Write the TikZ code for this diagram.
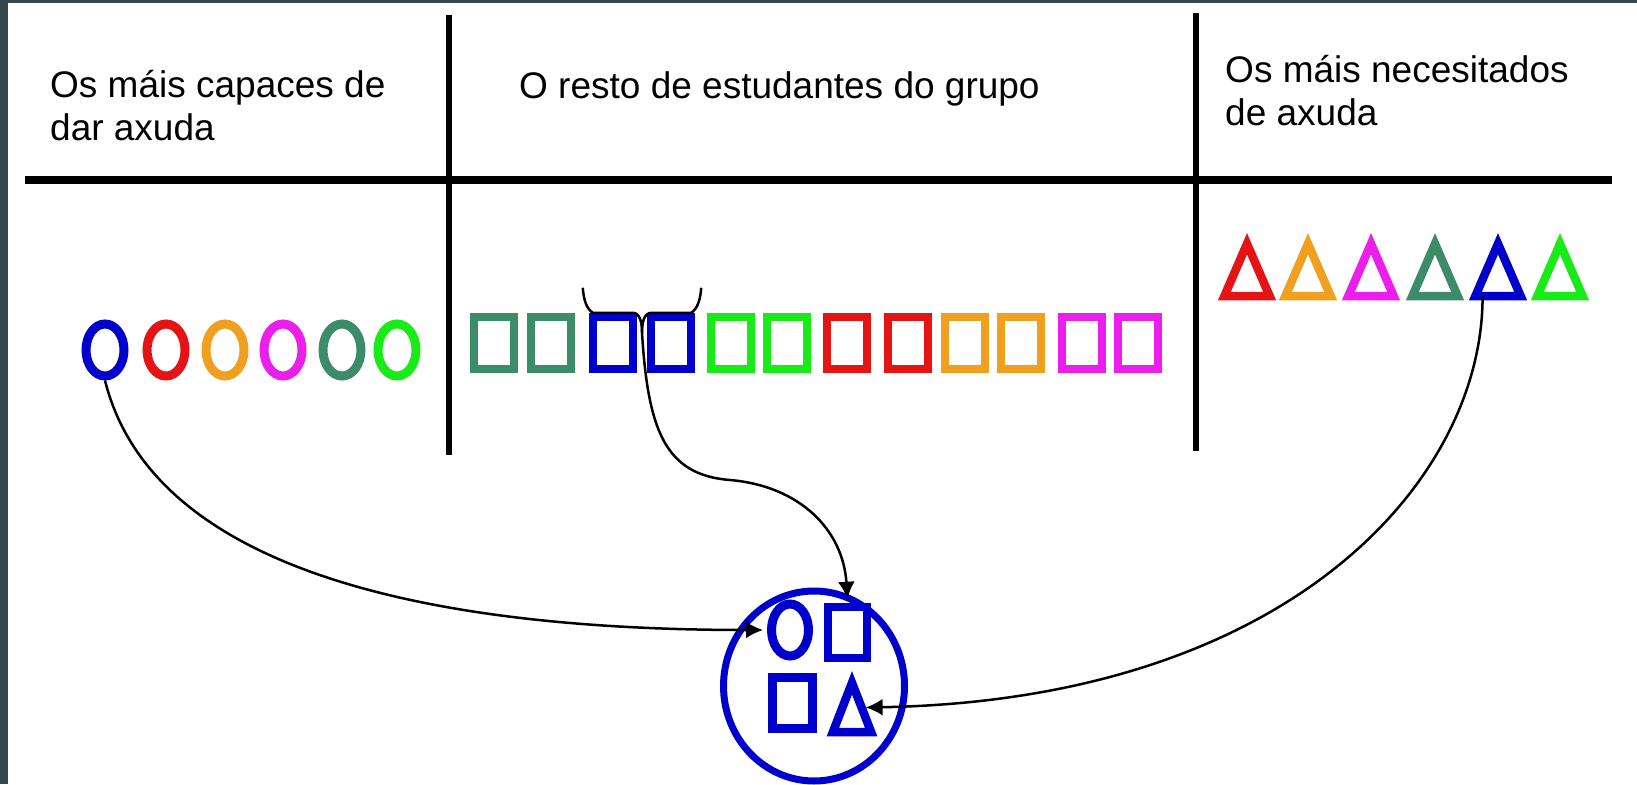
\documentclass[tikz,border=0pt]{standalone}
\usepackage{fontspec}
\setmainfont{Liberation Sans}
\usetikzlibrary{shapes.geometric,arrows.meta,calc}
\definecolor{framecol}{RGB}{55,71,79}
\definecolor{cblue}{RGB}{0,0,205}
\definecolor{cred}{RGB}{228,20,20}
\definecolor{corange}{RGB}{240,160,30}
\definecolor{cmag}{RGB}{236,30,236}
\definecolor{csea}{RGB}{60,140,105}
\definecolor{cgreen}{RGB}{25,235,25}
\begin{document}
\begin{tikzpicture}[x=1pt,y=-1pt,
  lbl/.style={font=\fontsize{37}{43}\selectfont, inner sep=0pt, align=left, anchor=base west},
  ring/.style={ellipse, draw=#1, line width=9pt, minimum width=38pt, minimum height=52pt, inner sep=0pt},
  box/.style={rectangle, draw=#1, line width=8.5pt, minimum width=40pt, minimum height=52pt, inner sep=0pt},
  trislot/.style={rectangle, minimum width=45pt, minimum height=52pt, inner sep=0pt},
  tri/.style={draw=#1, line width=8.5pt, line join=miter},
  sepline/.style={line width=#1, black},
  link/.style={line width=2.5pt, black, -{Latex[length=17pt,width=17pt]}},
  brace/.style={line width=2.5pt, black},
]
% background and frame
\fill[white] (0,0) rectangle (1637,784);
\fill[framecol] (0,0) rectangle (8,784);
\fill[framecol] (0,0) rectangle (1637,3);
\useasboundingbox (0,0) rectangle (1637,784);

% separating lines
\coordinate (hL) at (25,180);  \coordinate (hR) at (1612,180);
\coordinate (v1T) at (449,15); \coordinate (v1B) at (449,455);
\coordinate (v2T) at (1196,13); \coordinate (v2B) at (1196,451);
\draw[sepline=8.5pt] (hL) -- (hR);
\draw[sepline=6pt] (v1T) -- (v1B);
\draw[sepline=6pt] (v2T) -- (v2B);

% headings (base anchor = baseline of the last line)
\node[lbl] (head1) at (50,140) {Os máis capaces de\\dar axuda};
\node[lbl] (head2) at (519,98) {O resto de estudantes do grupo};
\node[lbl] (head3) at (1225,125) {Os máis necesitados\\de axuda};

% circles
\foreach \x/\c/\n in {105/cblue/1,166/cred/2,225/corange/3,283/cmag/4,342/csea/5,397/cgreen/6}
  \node[ring=\c] (c\n) at (\x,350) {};

% squares
\foreach \x/\c/\n in {494/csea/1,551/csea/2,613/cblue/3,671/cblue/4,731/cgreen/5,787/cgreen/6,847/cred/7,908/cred/8,965/corange/9,1021/corange/10,1082/cmag/11,1138/cmag/12}
  \node[box=\c] (s\n) at (\x,343) {};

% triangles
\foreach \x/\c/\n in {1247/cred/1,1308/corange/2,1371/cmag/3,1435/csea/4,1498/cblue/5,1560/cgreen/6}{
  \node[trislot] (t\n) at (\x,270) {};
  \draw[tri=\c] (t\n.north) -- (t\n.south east) -- (t\n.south west) -- cycle;
}

% group ellipse with its members
\node[ellipse, draw=cblue, line width=7pt, minimum width=181pt, minimum height=190pt, inner sep=0pt] (grp) at (814,686) {};
\node[ring=cblue, minimum width=37pt, minimum height=52pt] (gc) at (790,630) {};
\node[box=cblue, minimum width=39pt, minimum height=51pt] (gs1) at (847.5,632.5) {};
\node[box=cblue, minimum width=40pt, minimum height=51pt] (gs2) at (792.5,703) {};
\node[trislot, minimum width=38pt, minimum height=49pt] (gt) at (852,707.5) {};
\draw[tri=cblue] (gt.north) -- (gt.south east) -- (gt.south west) -- cycle;

% brace over the two blue squares
\coordinate (btip) at ($(s3.north east)!0.5!(s4.north west)+(0,20)$);
\coordinate (bl) at ($(s3.north west)+(-6,-25)$);
\coordinate (br) at ($(s4.north east)+(6,-25)$);
\draw[brace] (bl) .. controls ($(bl)+(1,13)$) and ($(s3.north west)+(-2,-4)$) .. ($(s3.north west)+(4,0)$)
  -- ($(s3.north east)+(-4,0)$) .. controls ($(s3.north east)+(3,1)$) and ($(btip)+(0,-10)$) .. (btip);
\draw[brace] (br) .. controls ($(br)+(-1,13)$) and ($(s4.north east)+(2,-4)$) .. ($(s4.north east)+(-4,0)$)
  -- ($(s4.north west)+(4,0)$) .. controls ($(s4.north west)+(-3,1)$) and ($(btip)+(0,-10)$) .. (btip);

% connectors
\draw[link] (c1.south) .. controls (150,560) and (400,630) .. ($(gc.west)+(-4,0)$);
\draw[link] (btip) .. controls (648,430) and (665,475) .. (730,480)
  .. controls (800,486) and (843,530) .. ($(gs1.north)+(0,-4)$);
\draw[link] ($(t5.south west)!0.16!(t5.south east)$) .. controls (1483,480) and (1290,700) .. ($(gt.north)!0.5!(gt.south east)+(4,0)$);
\end{tikzpicture}
\end{document}
